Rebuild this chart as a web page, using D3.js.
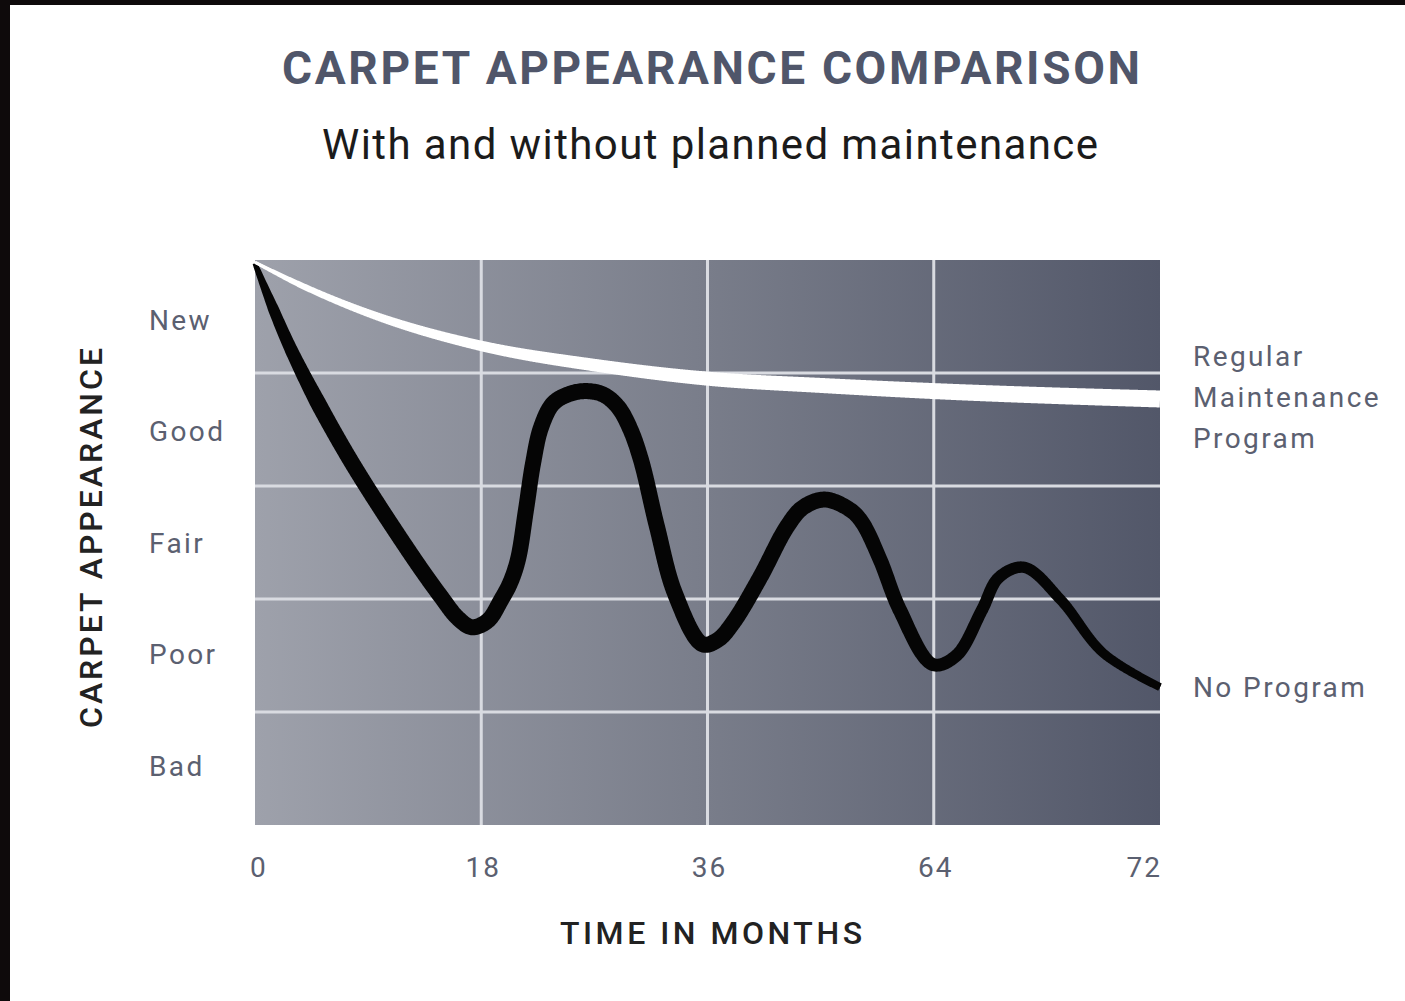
<!DOCTYPE html>
<html><head><meta charset="utf-8">
<script src="https://cdn.jsdelivr.net/npm/d3@7"></script>
<style>body{margin:0;background:#fff;} svg{display:block}</style>
</head><body>
<svg id="chart" width="1405" height="1001"></svg>
<script>
// ---- data ----
const appearanceLevels = ["New", "Good", "Fair", "Poor", "Bad"];
const monthTicks = [0, 18, 36, 64, 72];
const regularMonths = [0, 3.6, 9, 18, 27, 36, 50, 64, 72];
const regularValues = [4.98, 4.78, 4.53, 4.24, 4.07, 3.95, 3.89, 3.84, 3.77];
const noProgramMonths = [0, 2.9, 7.1, 12.2, 14.8, 16.15, 17.26, 18.54, 19.57, 20.29, 20.92, 21.56, 22.12, 22.76, 23.71, 24.9, 26.25, 27.69, 28.88, 29.83, 30.71, 31.98, 33.41, 35.6, 37.3, 39.16, 42.5, 45.84, 47.82, 50.54, 53.64, 55.12, 57.35, 59.82, 63.9, 64.8, 65.7, 66.3, 67.2, 68.5, 70.0, 72];
const noProgramValues = [4.97, 4.20, 3.32, 2.43, 2.02, 1.83, 1.75, 1.81, 1.99, 2.14, 2.35, 2.79, 3.20, 3.52, 3.73, 3.81, 3.84, 3.81, 3.70, 3.51, 3.23, 2.64, 2.05, 1.60, 1.64, 1.79, 2.19, 2.64, 2.81, 2.88, 2.79, 2.68, 2.35, 1.90, 1.42, 1.50, 1.90, 2.19, 2.28, 1.99, 1.52, 1.22];
const seriesLabels = { regular: ["Regular", "Maintenance", "Program"], none: ["No Program"] };
const titleText = "CARPET APPEARANCE COMPARISON";
const subtitleText = "With and without planned maintenance";
const xTitle = "TIME IN MONTHS";
const yTitle = "CARPET APPEARANCE";

// ---- layout ----
const svg = d3.select("#chart");
const W = 1405, H = 1001;
const plot = { left: 255, right: 1160, top: 260, bottom: 825 };
const FONT = "Roboto, 'Liberation Sans', sans-serif";

// frame
svg.append("rect").attr("x", 0).attr("y", 0).attr("width", W).attr("height", H).attr("fill", "#fff");
svg.append("rect").attr("x", 0).attr("y", 0).attr("width", W).attr("height", 5).attr("fill", "#0e0a0b");
svg.append("rect").attr("x", 0).attr("y", 0).attr("width", 10).attr("height", H).attr("fill", "#0e0a0b");

const x = d3.scaleLinear()
  .domain(monthTicks)
  .range(monthTicks.map((d, i) => plot.left + i * (plot.right - plot.left) / (monthTicks.length - 1)));
const y = d3.scaleLinear().domain([0, appearanceLevels.length]).range([plot.bottom, plot.top]);
const band = d3.scaleBand().domain(appearanceLevels).range([plot.top, plot.bottom]);

// background gradient
const defs = svg.append("defs");
const grad = defs.append("linearGradient").attr("id", "bg").attr("x1", 0).attr("x2", 1).attr("y1", 0).attr("y2", 0);
grad.append("stop").attr("offset", 0).attr("stop-color", "#9ea1ab");
grad.append("stop").attr("offset", 0.5).attr("stop-color", "#797d8a");
grad.append("stop").attr("offset", 1).attr("stop-color", "#525769");
svg.append("rect").attr("x", plot.left).attr("y", plot.top)
  .attr("width", plot.right - plot.left).attr("height", plot.bottom - plot.top)
  .attr("fill", "url(#bg)");

// grid
const grid = svg.append("g").attr("stroke", "#d9dbe1").attr("stroke-width", 3);
grid.selectAll("line.v").data(monthTicks.slice(1, -1)).join("line")
  .attr("x1", d => x(d)).attr("x2", d => x(d)).attr("y1", plot.top).attr("y2", plot.bottom);
grid.selectAll("line.h").data(appearanceLevels.slice(1)).join("line")
  .attr("x1", plot.left).attr("x2", plot.right).attr("y1", d => band(d)).attr("y2", d => band(d));

// variable-width ribbon
function ribbonPath(months, values, widthScale, curve) {
  const pts = months.map((m, i) => [x(m), y(values[i])]);
  const centerD = d3.line().curve(curve)(pts);
  const tmp = svg.append("path").attr("d", centerD).attr("fill", "none");
  const node = tmp.node();
  const L = node.getTotalLength();
  const N = 1600;
  const samples = d3.range(N + 1).map(i => { const p = node.getPointAtLength(L * i / N); return [p.x, p.y]; });
  tmp.remove();
  const up = [], lo = [];
  samples.forEach((p, i) => {
    const a = samples[Math.max(0, i - 2)], b = samples[Math.min(N, i + 2)];
    const dx = b[0] - a[0], dy = b[1] - a[1];
    const len = Math.hypot(dx, dy) || 1;
    const nx = -dy / len, ny = dx / len;
    const w = widthScale(x.invert(p[0])) / 2;
    up.push([p[0] + nx * w, p[1] + ny * w]);
    lo.push([p[0] - nx * w, p[1] - ny * w]);
  });
  return { ribbon: d3.line()(up.concat(lo.reverse())) + "Z", center: centerD };
}

const blackWidth = d3.scaleLinear().domain([0, 1.5, 5, 50, 62, 68, 72]).range([5, 11, 16, 16, 14, 11, 8]).clamp(true);
const whiteWidth = d3.scaleLinear().domain([0, 3.6, 12.8, 23.5, 36, 64, 72]).range([3, 6, 9, 12, 14, 16, 17]).clamp(true);

const blk = ribbonPath(noProgramMonths, noProgramValues, blackWidth, d3.curveCatmullRom.alpha(0.5));
svg.append("path").attr("d", blk.center).attr("fill", "none").attr("stroke", "#050505").attr("stroke-width", 4);
svg.append("path").attr("d", blk.ribbon).attr("fill", "#050505");

const wht = ribbonPath(regularMonths, regularValues, whiteWidth, d3.curveMonotoneX);
svg.append("path").attr("d", wht.center).attr("fill", "none").attr("stroke", "#ffffff").attr("stroke-width", 3);
svg.append("path").attr("d", wht.ribbon).attr("fill", "#ffffff");

// titles
svg.append("text").attr("x", 711).attr("y", 84).attr("text-anchor", "middle")
  .attr("font-family", FONT).attr("font-weight", 700).attr("font-size", 46)
  .attr("fill", "#50566a").attr("textLength", 858).attr("lengthAdjust", "spacing").text(titleText);
svg.append("text").attr("x", 710).attr("y", 159).attr("text-anchor", "middle")
  .attr("font-family", FONT).attr("font-weight", 400).attr("font-size", 42)
  .attr("fill", "#1b1b1b").attr("textLength", 776).attr("lengthAdjust", "spacing").text(subtitleText);

// y labels
svg.append("g").selectAll("text").data(appearanceLevels).join("text")
  .attr("x", 149).attr("y", (d, i) => band(d) + band.bandwidth() / 2 + 13 - i * 1.5)
  .attr("font-family", FONT).attr("font-size", 28).attr("letter-spacing", 2.4)
  .attr("fill", "#5b6070").text(d => d);

// x tick labels
svg.append("g").selectAll("text").data(monthTicks).join("text")
  .attr("x", (d, i) => i === 0 ? x(d) - 5 : x(d) + 2)
  .attr("y", 877)
  .attr("text-anchor", (d, i) => i === 0 ? "start" : (i === monthTicks.length - 1 ? "end" : "middle"))
  .attr("font-family", FONT).attr("font-size", 28).attr("letter-spacing", 2)
  .attr("fill", "#5b6070").text(d => d);

// axis titles
svg.append("text").attr("x", 711).attr("y", 944).attr("text-anchor", "middle")
  .attr("font-family", FONT).attr("font-weight", 500).attr("font-size", 32)
  .attr("fill", "#222").attr("textLength", 302).attr("lengthAdjust", "spacing").text(xTitle);
svg.append("text").attr("transform", "translate(102,538) rotate(-90)").attr("text-anchor", "middle")
  .attr("font-family", FONT).attr("font-weight", 500).attr("font-size", 32)
  .attr("fill", "#222").attr("textLength", 380).attr("lengthAdjust", "spacing").text(yTitle);

// series labels
const regEnd = y(regularValues[regularValues.length - 1]);
svg.append("g").selectAll("text").data(seriesLabels.regular).join("text")
  .attr("x", 1193).attr("y", (d, i) => regEnd + (i - 1) * 41 - 2 + 10)
  .attr("font-family", FONT).attr("font-size", 28).attr("letter-spacing", 2.4)
  .attr("fill", "#5b6070").text(d => d);
const noEnd = y(noProgramValues[noProgramValues.length - 1]);
svg.append("g").selectAll("text").data(seriesLabels.none).join("text")
  .attr("x", 1193).attr("y", noEnd + 10)
  .attr("font-family", FONT).attr("font-size", 28).attr("letter-spacing", 2.4)
  .attr("fill", "#5b6070").text(d => d);
</script>
</body></html>
